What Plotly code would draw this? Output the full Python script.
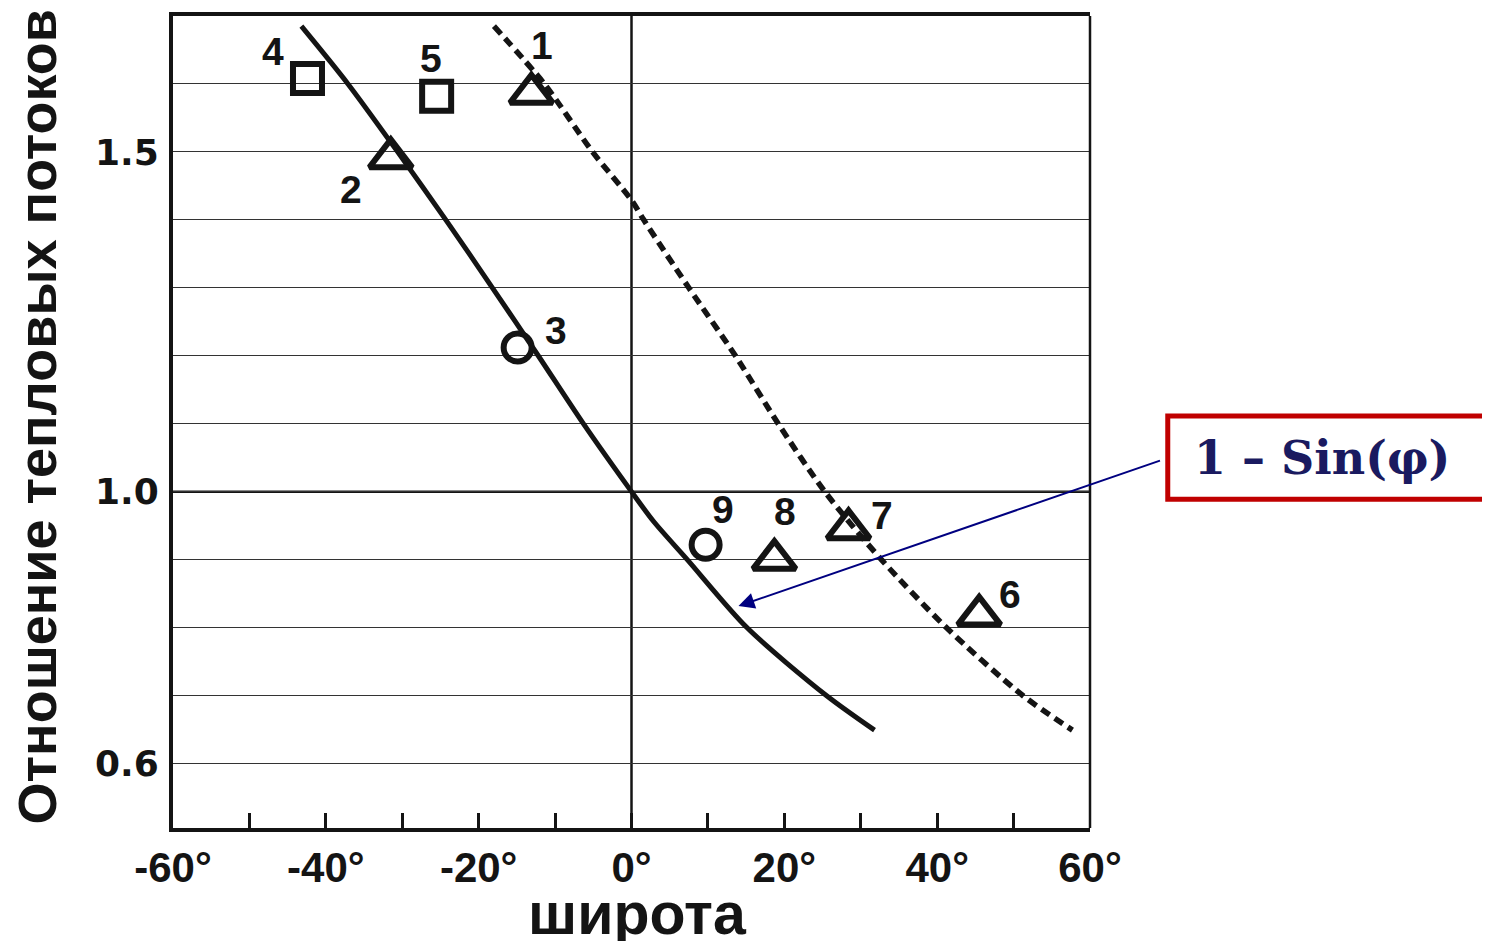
import plotly.graph_objects as go

# ---------------- data ----------------
# solid curve (1 - sin(phi)-type reference curve)
solid_lat = [-43.2, -37.1, -30.6, -24.3, -18.2, -12.2, -6.3, 0.0, 2.9, 7.3, 15.1, 25.5, 31.8]
solid_ratio = [1.685, 1.600, 1.500, 1.400, 1.300, 1.200, 1.100, 1.000, 0.956, 0.900, 0.800, 0.700, 0.649]

# dashed curve
dashed_lat = [-18.0, -11.4, -5.1, 0.0, 1.6, 7.5, 13.6, 19.2, 25.3, 32.7, 41.2, 51.2, 57.7]
dashed_ratio = [1.685, 1.600, 1.500, 1.429, 1.400, 1.300, 1.200, 1.100, 1.000, 0.900, 0.800, 0.700, 0.649]

# numbered observation points
point_labels = ["1", "2", "3", "4", "5", "6", "7", "8", "9"]
point_lat = [-13.1, -31.5, -14.9, -42.4, -25.5, 45.5, 28.4, 18.7, 9.7]
point_ratio = [1.586, 1.491, 1.212, 1.608, 1.582, 0.818, 0.945, 0.900, 0.922]
point_kind = ["triangle", "triangle", "circle", "square", "square",
              "triangle", "triangle", "triangle", "circle"]

# axis ticks
x_tick_values = [-60, -40, -20, 0, 20, 40, 60]
x_tick_labels = ["-60°", "-40°", "-20°", "0°", "20°", "40°", "60°"]
y_grid_values = [0.6, 0.7, 0.8, 0.9, 1.0, 1.1, 1.2, 1.3, 1.4, 1.5, 1.6]
y_tick_labels = ["0.6", "", "", "", "1.0", "", "", "", "", "1.5", ""]

x_title = "широта"
y_title = "Отношение тепловых потоков"
formula_text = "1 – Sin(φ)"
arrow_target = (14.0, 0.8316)

# ---------------- styling ----------------
INK = "#141414"
NAVY = "#000080"
symbol_map = {"triangle": "triangle-up-open", "circle": "circle-open", "square": "square-open"}
size_map = {"triangle": 37, "circle": 28, "square": 29}
# label offsets (pixels) relative to each marker
label_dx = [11, -40, 38, -34, -6, 31, 33, 11, 17]
label_dy = [48, -31, 17, 27, 38, 21, 14, 48, 35]

fig = go.Figure()

fig.add_trace(go.Scatter(x=solid_lat, y=solid_ratio, mode="lines",
                         line=dict(color=INK, width=5, shape="spline", smoothing=0.8),
                         showlegend=False, hoverinfo="skip"))
fig.add_trace(go.Scatter(x=dashed_lat, y=dashed_ratio, mode="lines",
                         line=dict(color=INK, width=5.5, dash="10px,6px", shape="spline", smoothing=0.8),
                         showlegend=False, hoverinfo="skip"))

for kind in ["triangle", "circle", "square"]:
    xs = [x for x, k in zip(point_lat, point_kind) if k == kind]
    ys = [y for y, k in zip(point_ratio, point_kind) if k == kind]
    fig.add_trace(go.Scatter(x=xs, y=ys, mode="markers",
                             marker=dict(symbol=symbol_map[kind], size=size_map[kind],
                                         color=INK, line=dict(color=INK, width=6)),
                             showlegend=False))

annotations = []
for lab, x, y, dx, dy in zip(point_labels, point_lat, point_ratio, label_dx, label_dy):
    annotations.append(dict(x=x, y=y, xref="x", yref="y", text=lab, showarrow=False,
                            xshift=dx, yshift=dy, xanchor="center", yanchor="middle",
                            font=dict(family="Liberation Sans, Arial", size=39, color=INK, weight="bold")))

# formula box text
annotations.append(dict(x=1.2527, y=0.456, xref="paper", yref="paper", text=formula_text,
                        showarrow=False, xanchor="center", yanchor="middle",
                        font=dict(family="DejaVu Serif, Liberation Serif", size=46,
                                  color="#1a1a60", weight="bold")))
# arrow from box to solid curve
annotations.append(dict(x=arrow_target[0], y=arrow_target[1], xref="x", yref="y", text="",
                        showarrow=True, arrowhead=2, arrowsize=1.6, arrowwidth=2,
                        arrowcolor=NAVY, ax=423, ay=-146, axref="pixel", ayref="pixel",
                        standoff=0, startstandoff=0))
# axis titles
annotations.append(dict(x=0.507, y=-0.1055, xref="paper", yref="paper", text=x_title,
                        showarrow=False, xanchor="center", yanchor="middle",
                        font=dict(family="Liberation Sans, Arial", size=59, color=INK, weight="bold")))
annotations.append(dict(x=-0.148, y=0.506, xref="paper", yref="paper", text=y_title,
                        showarrow=False, textangle=-90, xanchor="center", yanchor="middle",
                        font=dict(family="Liberation Sans, Arial", size=54, color=INK, weight="bold")))

shapes = [
    # thicker 1.0 line
    dict(type="line", xref="paper", yref="y", x0=0, x1=1, y0=1.0, y1=1.0,
         line=dict(color=INK, width=2.5), layer="below"),
    # vertical zero meridian
    dict(type="line", xref="x", yref="paper", x0=0, x1=0, y0=0, y1=1,
         line=dict(color=INK, width=2.5), layer="below"),
    # right frame edge
    dict(type="line", xref="paper", yref="paper", x0=1, x1=1, y0=0, y1=1,
         line=dict(color=INK, width=2.5)),
    # formula box
    dict(type="rect", xref="paper", yref="paper", x0=1.0848, x1=1.46, y0=0.405, y1=0.5074,
         line=dict(color="#c00000", width=5), fillcolor="white"),
]

fig.update_layout(
    width=1474, height=933,
    margin=dict(l=165, r=392, t=4, b=113),
    paper_bgcolor="white", plot_bgcolor="white",
    annotations=annotations, shapes=shapes,
    xaxis=dict(range=[-60, 60], tickvals=x_tick_values, ticktext=x_tick_labels,
               showgrid=False, zeroline=False,
               showline=True, linecolor=INK, linewidth=4, mirror=True,
               ticks="inside", ticklen=15, tickwidth=2.5, tickcolor=INK,
               minor=dict(dtick=10, tick0=0, ticks="inside", ticklen=15, tickwidth=2.5,
                          tickcolor=INK, showgrid=False),
               ticklabelstandoff=0,
               tickfont=dict(family="Liberation Sans, Arial", size=42, color=INK, weight="bold")),
    yaxis=dict(range=[0.505, 1.70], tickvals=y_grid_values, ticktext=y_tick_labels,
               showgrid=True, gridcolor="#333333", gridwidth=1,
               zeroline=False, showline=True, linecolor=INK, linewidth=4, mirror=False,
               ticks="", ticklabelstandoff=3,
               tickfont=dict(family="DejaVu Sans", size=36, color=INK, weight="bold")),
)

fig.write_html("out.html")
